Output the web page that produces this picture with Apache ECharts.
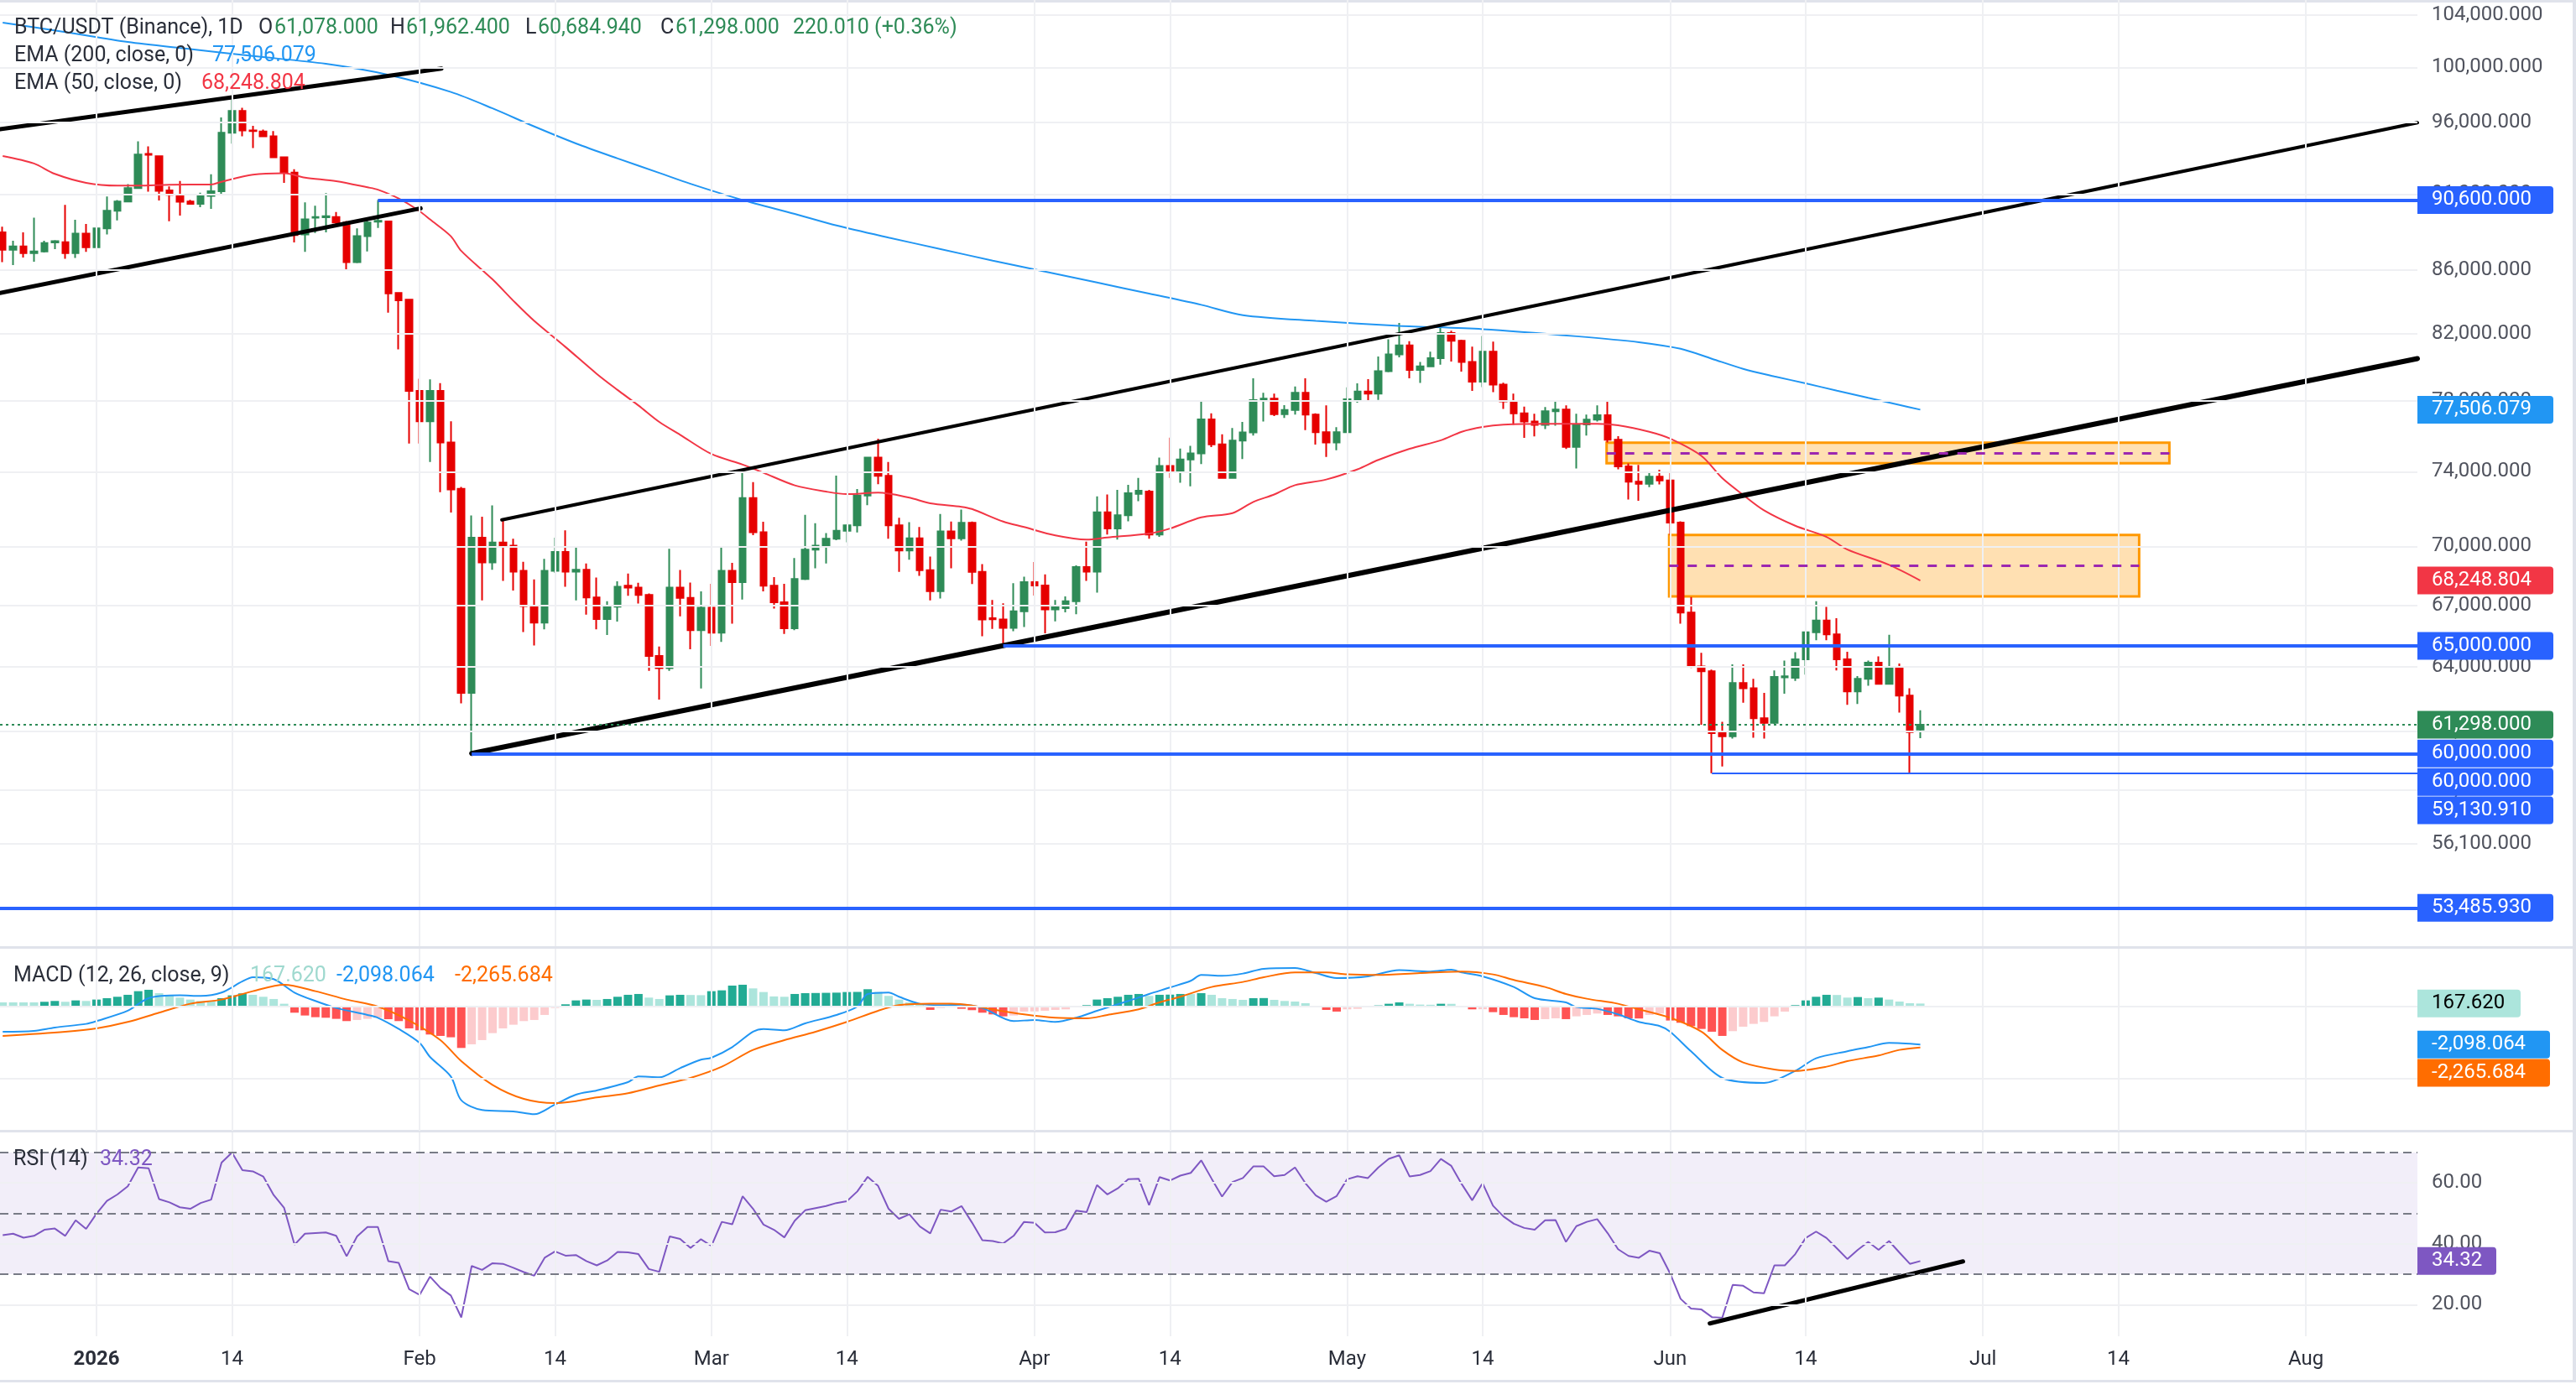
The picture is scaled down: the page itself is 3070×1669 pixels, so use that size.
<!DOCTYPE html>
<html>
<head>
<meta charset="utf-8">
<script src="https://cdn.jsdelivr.net/npm/echarts@6/dist/echarts.min.js"></script>
<style>
  html, body { margin: 0; padding: 0; background: #fff; }
  #chart { width: 3070px; height: 1669px; }
</style>
</head>
<body>
<div id="chart"></div>
<script>
// x = candle index, 0 = 2025-12-23 (one candle per day)
const tickIdx = [9, 22, 40, 53, 68, 81, 99, 112, 129, 142, 160, 173, 190, 203, 221];
const tickText = ['2026', '14', 'Feb', '14', 'Mar', '14', 'Apr', '14', 'May', '14', 'Jun', '14', 'Jul', '14', 'Aug'];
const priceTicks = [104000, 100000, 96000, 91000, 86000, 82000, 78000, 74000, 70000, 67000, 64000, 61000, 58400, 56100];

// [open, close, low, high]
const candles = [
  [88450, 87310, 86500, 88820], [87310, 87530, 86320, 87900], [87530, 87090, 86800, 88450], [87090, 87200, 86530, 89410],
  [87200, 87750, 87130, 87900], [87780, 87860, 87350, 87930], [87800, 87090, 86720, 90270], [87090, 88360, 86770, 89280],
  [88360, 87470, 87170, 89000], [87470, 88710, 87440, 88745], [88710, 89880, 88300, 90840], [89880, 90500, 89240, 90600],
  [90500, 91410, 90460, 91680], [91410, 93725, 91370, 94650], [93760, 93700, 91160, 94290], [93610, 91215, 90575, 93650],
  [91250, 90950, 89180, 91520], [90950, 90480, 89560, 91900], [90500, 90350, 90310, 90610], [90350, 90880, 90120, 91100],
  [90880, 91200, 90010, 92360], [91200, 95260, 90930, 96340], [95260, 96820, 94490, 97800], [96820, 95420, 95000, 97040],
  [95420, 95380, 94170, 95740], [95340, 95000, 94940, 95480], [95000, 93530, 93500, 95380], [93530, 92450, 91770, 93530],
  [92470, 88270, 87790, 92700], [88300, 89300, 87170, 90440], [89410, 89460, 88410, 90220], [89440, 89520, 88450, 91060],
  [89460, 89090, 89000, 89790], [89090, 86500, 85960, 89190], [86500, 88190, 86440, 88710], [88190, 89090, 87200, 89370],
  [89150, 89210, 88740, 90600], [89170, 84520, 83310, 89210], [84540, 84080, 81070, 84570], [84120, 78600, 75580, 84140],
  [78600, 76840, 75580, 79310], [76840, 78600, 74550, 79270], [78600, 75640, 72890, 79050], [75640, 73030, 71790, 76840],
  [73070, 62770, 62280, 73170], [62770, 70460, 60000, 71630], [70460, 69170, 67240, 71570], [69170, 70210, 68800, 72170],
  [70210, 70040, 68230, 71370], [70040, 68700, 67740, 70400], [68740, 66960, 65680, 69210], [66960, 66140, 65020, 68300],
  [66140, 68740, 65810, 69360], [68740, 69720, 68640, 70460], [69720, 68700, 67930, 70850], [68700, 68800, 67240, 70020],
  [68800, 67390, 66540, 69120], [67390, 66320, 65810, 68400], [66320, 66930, 65530, 67200], [66930, 67930, 66190, 68210],
  [67980, 67890, 67480, 68600], [67890, 67520, 67090, 68130], [67520, 64520, 63810, 67590], [64520, 63940, 62460, 64970],
  [63940, 67890, 63810, 69880], [67890, 67370, 66450, 68780], [67370, 65770, 64840, 68140], [65770, 66880, 62980, 67700],
  [66880, 65650, 65000, 68080], [65650, 68740, 65200, 69980], [68740, 68170, 66090, 69150], [68170, 72570, 67290, 73940],
  [72570, 70750, 70590, 73430], [70750, 67980, 67700, 71300], [67980, 67150, 66840, 68420], [67150, 65860, 65590, 68080],
  [65860, 68320, 65770, 69400], [68320, 69840, 68270, 71670], [69840, 70040, 68870, 71220], [70040, 70400, 69120, 70700],
  [70400, 70820, 70330, 73790], [70820, 71110, 70220, 71170], [71110, 72700, 70740, 73060], [72700, 74790, 72180, 74830],
  [74790, 73780, 73320, 75850], [73780, 71110, 70400, 74550], [71110, 69790, 68690, 71510], [69790, 70430, 69310, 71280],
  [70430, 68770, 68480, 71020], [68770, 67710, 67240, 69480], [67710, 70790, 67340, 71710], [70790, 70430, 68870, 71310],
  [70430, 71240, 70300, 71950], [71240, 68690, 68070, 71310], [68690, 66300, 65470, 69090], [66360, 66310, 65830, 67270],
  [66300, 65880, 65000, 67100], [65880, 66700, 65720, 68110], [66700, 68160, 65920, 68440], [68160, 67990, 67490, 69190],
  [67990, 66790, 65620, 68560], [66790, 66900, 66200, 67270], [66860, 67200, 66650, 67450], [67200, 68940, 66560, 69020],
  [68940, 68700, 68230, 70250], [68700, 71800, 67630, 72660], [71800, 70940, 70620, 72760], [70940, 71650, 70360, 73010],
  [71650, 72830, 71320, 73290], [72800, 72970, 72400, 73660], [72920, 70620, 70400, 73010], [70620, 74320, 70500, 74790],
  [74320, 74010, 73670, 75910], [74010, 74680, 73400, 75290], [74680, 75020, 73210, 75450], [75020, 76950, 74430, 78000],
  [76950, 75530, 75370, 77290], [75530, 73660, 73620, 76100], [73660, 75740, 73640, 76450], [75740, 76200, 74710, 76800],
  [76200, 78060, 76020, 79340], [78060, 78150, 76820, 78490], [78150, 77250, 77140, 78440], [77250, 77490, 77030, 77770],
  [77490, 78490, 77220, 78850], [78490, 77220, 76340, 79340], [77220, 76220, 75520, 77300], [76220, 75630, 74820, 77760],
  [75630, 76220, 75200, 76500], [76220, 78110, 76180, 78800], [78110, 78560, 77910, 79040], [78560, 78440, 77980, 79290],
  [78440, 79760, 78070, 80640], [79760, 80760, 79700, 81670], [80760, 81310, 80590, 82680], [81310, 79840, 79340, 81560],
  [79840, 80040, 79060, 80310], [80040, 80540, 79990, 80930], [80540, 82060, 80150, 82460], [82060, 81580, 80340, 82200],
  [81580, 80310, 79730, 81650], [80310, 79140, 78600, 81230], [79140, 80930, 78820, 81880], [80930, 78960, 78520, 81540],
  [78960, 77980, 77550, 79080], [77980, 77300, 76630, 78440], [77300, 76820, 75900, 77680], [76820, 76630, 75980, 77270],
  [76630, 77410, 76390, 77660], [77410, 77510, 76580, 78060], [77510, 75390, 75270, 77760], [75390, 76660, 74190, 77270],
  [76660, 76930, 76020, 77220], [76930, 77190, 76820, 77760], [77190, 75790, 75630, 77960], [75790, 74300, 74140, 75990],
  [74300, 73460, 72490, 74460], [73460, 73340, 72420, 74380], [73340, 73730, 73160, 73960], [73730, 73530, 73310, 74110],
  [73530, 71260, 70580, 73960], [71260, 66640, 66090, 71320], [66640, 64020, 63950, 67410], [64020, 63790, 61300, 64670],
  [63790, 60920, 59131, 63870], [60920, 60770, 59420, 61430], [60770, 63230, 60670, 64120], [63230, 62990, 62310, 64120],
  [62990, 61600, 60710, 63430], [61600, 61380, 60670, 62770], [61380, 63520, 61340, 63830], [63500, 63550, 62730, 64300],
  [63480, 64360, 63330, 64700], [64360, 65670, 63630, 65710], [65670, 66240, 65280, 67200], [66240, 65570, 65280, 66920],
  [65570, 64360, 63830, 66360], [64360, 62840, 62210, 64720], [62840, 63430, 62250, 63560], [63430, 64200, 63100, 64300],
  [64200, 63190, 63160, 64500], [63190, 63920, 63160, 65550], [63920, 62640, 61860, 64160], [62640, 60960, 59140, 62990],
  [61078, 61298, 60684.94, 61962.4]
];

// [index, value]
const ema200 = [
  [0, 103390], [6, 102670], [12, 101910], [18, 101380], [24, 100850], [31, 100270], [37, 99450], [43, 98190],
  [47, 97000], [51, 95700], [55, 94500], [59, 93450], [63, 92450], [66, 91700], [71, 90600], [76, 89670],
  [80, 88900], [85, 88100], [90, 87350], [95, 86600], [100, 85900], [105, 85200], [110, 84500], [115, 83800],
  [119, 83160], [126, 82800], [134, 82500], [142, 82290], [151, 81860], [157, 81500], [161, 81100], [164, 80500],
  [167, 79900], [170, 79450], [173, 79040], [176, 78610], [179, 78190], [182, 77780], [184, 77506.079]
];
const ema50 = [
  [0, 93620], [3, 93100], [5, 92380], [8, 91770], [11, 91580], [13, 91580], [16, 91640], [20, 91650],
  [21, 91840], [24, 92320], [27, 92420], [29, 92130], [32, 91880], [35, 91460], [36, 91300], [38, 90700],
  [40, 89850], [41, 89300], [43, 88190], [44, 87230], [47, 85400], [49, 84050], [51, 82800], [54, 81210],
  [57, 79600], [59, 78650], [61, 77750], [63, 76800], [65, 76070], [68, 74990], [71, 74400], [73, 73950],
  [76, 73260], [79, 72920], [81, 72780], [84, 72860], [87, 72590], [89, 72290], [92, 72100], [93, 71980],
  [96, 71310], [98, 71020], [101, 70580], [104, 70360], [106, 70470], [110, 70680], [112, 70940], [115, 71530],
  [118, 71760], [120, 72360], [122, 72760], [124, 73270], [127, 73580], [130, 74140], [132, 74660], [135, 75280],
  [138, 75760], [140, 76240], [142, 76510], [144, 76640], [148, 76690], [153, 76690], [155, 76610], [158, 76240],
  [160, 75850], [163, 74880], [165, 73650], [167, 72740], [169, 71910], [172, 71090], [175, 70500], [177, 69840],
  [181, 69050], [184, 68248.804]
];

const macdLine = [
  [0, -1392], [3, -1346], [5, -1160], [8, -959], [9, -804], [12, -232], [14, 464], [17, 619], [19, 588],
  [21, 774], [23, 1392], [24, 1624], [26, 1516], [28, 774], [30, 309], [32, -77], [35, -464], [36, -619],
  [38, -1238], [40, -2011], [41, -2785], [43, -3868], [44, -5183], [46, -5724], [49, -5802], [51, -5956],
  [53, -5415], [55, -4873], [57, -4641], [60, -4177], [61, -3868], [63, -3914], [65, -3404], [67, -2939],
  [68, -2831], [70, -2243], [72, -1392], [73, -1238], [75, -1315], [77, -928], [80, -464], [82, 0], [83, 696],
  [85, 774], [86, 541], [88, 155], [90, 77], [92, 108], [94, -77], [97, -804], [99, -742], [101, -851],
  [103, -619], [105, -232], [108, 309], [110, 696], [112, 1052], [114, 1423], [115, 1748], [117, 1702],
  [119, 1825], [121, 2088], [124, 2135], [126, 1856], [128, 1578], [131, 1671], [134, 2011], [137, 1934],
  [139, 2042], [140, 1887], [142, 1671], [145, 1083], [147, 464], [150, 232], [151, -31], [153, -124],
  [155, -433], [157, -851], [159, -1083], [160, -1392], [162, -2475], [165, -3945], [169, -4223], [172, -3558],
  [174, -2862], [177, -2475], [179, -2243], [181, -2011], [184, -2098.064]
];
const signalLine = [
  [0, -1624], [6, -1392], [9, -1206], [12, -851], [15, -340], [18, 155], [21, 387], [24, 851], [27, 1207],
  [30, 851], [33, 387], [36, 0], [39, -773], [42, -1856], [44, -3017], [47, -4331], [50, -5105], [53, -5337],
  [55, -5229], [57, -5028], [60, -4796], [63, -4363], [66, -3945], [69, -3326], [72, -2398], [75, -1856],
  [78, -1392], [81, -851], [84, -232], [86, 77], [89, 155], [91, 155], [93, 60], [95, -155], [98, -433],
  [101, -619], [104, -650], [106, -464], [109, -155], [111, 232], [113, 541], [116, 1083], [119, 1361],
  [121, 1624], [124, 1887], [127, 1887], [129, 1779], [132, 1748], [136, 1856], [140, 1934], [143, 1779],
  [145, 1470], [148, 1083], [150, 696], [152, 433], [155, 155], [157, -155], [160, -619], [163, -1392],
  [165, -2398], [167, -3094], [170, -3481], [172, -3558], [175, -3326], [177, -3017], [180, -2707],
  [182, -2398], [184, -2265.684]
];
const macdHist = [
  232, 232, 232, 232, 263, 309, 263, 340, 309, 387,
  464, 541, 650, 851, 928, 742, 619, 495, 387, 309,
  278, 464, 619, 727, 650, 541, 418, 155, -340, -495,
  -588, -619, -680, -804, -742, -680, -619, -700, -804, -1207,
  -1315, -1547, -1624, -1700, -2290, -2088, -1856, -1470, -1207, -1005,
  -804, -742, -464, -77, 124, 340, 387, 371, 418, 541,
  650, 696, 495, 418, 619, 650, 640, 630, 851, 897,
  1160, 1207, 1005, 804, 560, 541, 696, 742, 750, 760,
  770, 804, 810, 959, 804, 588, 387, 232, 155, -186,
  -77, -30, -124, -200, -340, -433, -541, -495, -278, -270,
  -232, -186, -155, -31, 77, 387, 464, 541, 650, 696,
  588, 650, 660, 696, 690, 742, 650, 464, 418, 371,
  464, 470, 371, 309, 278, 186, -31, -186, -278, -155,
  -124, -31, 62, 155, 232, 155, 108, 100, 155, 150,
  -31, -155, -150, -309, -464, -588, -650, -742, -696, -650,
  -696, -541, -464, -387, -464, -541, -650, -660, -464, -387,
  -773, -897, -1083, -1238, -1392, -1624, -1361, -1114, -959, -851,
  -541, -278, 77, 340, 541, 650, 640, 495, 526, 464,
  495, 387, 278, 186, 167.62
];
const rsi = [
  42.8, 43.3, 42.0, 42.6, 44.6, 45.0, 42.6, 47.7, 44.9, 49.9,
  54.1, 56.2, 58.9, 65.1, 64.8, 54.7, 53.6, 52.0, 51.5, 53.4,
  54.5, 66.7, 70.0, 64.2, 63.8, 62.1, 56.0, 51.8, 39.7, 43.3,
  43.5, 43.7, 42.6, 35.9, 42.4, 45.5, 45.5, 34.3, 33.7, 25.1,
  23.2, 29.2, 25.5, 23.0, 15.8, 32.7, 31.4, 33.6, 33.4, 32.1,
  30.7, 29.5, 35.4, 37.5, 36.1, 36.3, 34.3, 32.9, 34.5, 37.3,
  37.2, 36.6, 31.7, 30.8, 42.4, 41.6, 38.6, 41.5, 39.3, 47.2,
  46.4, 55.6, 51.5, 46.3, 44.6, 42.1, 47.6, 51.0, 51.7, 52.4,
  53.4, 54.0, 57.2, 62.0, 59.0, 51.5, 48.2, 49.7, 45.7, 43.4,
  51.2, 50.6, 52.4, 47.0, 41.2, 40.9, 40.1, 42.6, 47.2, 46.9,
  43.7, 43.8, 44.9, 50.9, 50.4, 59.3, 56.2, 58.2, 61.2, 61.4,
  52.7, 61.9, 60.8, 62.4, 63.3, 67.4, 61.4, 55.5, 60.3, 61.6,
  65.4, 65.4, 62.2, 62.6, 65.1, 59.9, 55.9, 53.8, 55.7, 61.2,
  62.2, 61.6, 65.1, 67.9, 69.1, 62.1, 62.6, 63.9, 67.9, 65.6,
  59.6, 54.3, 59.9, 52.5, 49.0, 46.6, 45.2, 44.6, 47.7, 47.8,
  40.6, 45.8, 47.2, 48.1, 43.5, 38.2, 36.0, 35.4, 37.7, 36.9,
  30.2, 21.9, 18.7, 18.4, 15.9, 15.7, 26.5, 26.2, 24.0, 23.7,
  32.9, 32.9, 36.6, 41.9, 44.0, 41.9, 38.5, 35.0, 38.0, 40.6,
  38.0, 40.9, 37.1, 33.4, 34.32
];

// drawings: trend lines [[x, price], [x, price], width]
const trendLines = [
  [[-0.26, 95500], [42.1, 99920], 5],
  [[-0.26, 84540], [40.1, 90040], 5],
  [[47.9, 71400], [231.7, 95970], 4],
  [[45, 60000], [231.7, 80510], 6]
];
const rsiTrend = [[163.8, 13.8], [188.1, 34.2]];
// horizontal levels: [startIndex, price, width]
const levels = [[36, 90600, 4], [96, 65000, 4], [45, 60000, 4], [164, 59130.91, 2], [-0.26, 53485.93, 4]];
// boxes: [x0, x1, top, bottom, mid]
const boxes = [[153.9, 207.9, 75618, 74473, 75043], [159.9, 205, 70600, 67446, 69019]];

const xMin = -0.26, xMax = 231.7;
const FONT = 'Roboto, "Noto Sans", sans-serif';
const GRID = '#eff0f3';
const TXT = '#2a2e39';
const UP = '#2e8b57', DOWN = '#e60000';
const HIDDEN = {color: 'rgba(0,0,0,0)', width: 0, opacity: 1};

function fmt(v, d) {
  const neg = v < 0;
  const s = Math.abs(v).toFixed(d).split('.');
  return (neg ? '-' : '') + s[0].replace(/\B(?=(\d{3})+(?!\d))/g, ',') + (s[1] ? '.' + s[1] : '');
}

function tag(v, text, bg, w, fg) {
  return {
    yAxis: v,
    lineStyle: HIDDEN,
    label: {
      show: true, position: 'end', distance: 0, formatter: text,
      backgroundColor: bg, color: fg || '#fff', width: w,
      padding: [5, 0, 4, 17], lineHeight: 24, fontSize: 24, fontFamily: FONT,
      borderRadius: [0, 4, 4, 0]
    }
  };
}

function carrier(gi, z, extra) {
  return Object.assign({
    type: 'line', xAxisIndex: gi, yAxisIndex: gi, data: [], z: z,
    silent: true, clip: false, symbol: 'none', animation: false
  }, extra);
}

function gridLines(gi, yVals, labelFn) {
  return carrier(gi, 1, {
    markLine: {
      silent: true, animation: false, symbol: ['none', 'none'],
      emphasis: {disabled: true},
      lineStyle: {color: GRID, width: 2, type: 'solid'},
      label: {show: false},
      data: tickIdx.map(v => ({xAxis: v})).concat(yVals.map(v => ({
        yAxis: v,
        label: labelFn ? {
          show: true, position: 'end', distance: 17, formatter: labelFn(v),
          color: '#50535e', fontSize: 24, fontFamily: FONT
        } : {show: false}
      })))
    }
  });
}

const histData = macdHist.map((v, i) => {
  const p = i ? macdHist[i - 1] : v;
  let c;
  if (v >= 0) c = v > p ? '#22AB94' : '#ACE5DC';
  else c = v < p ? '#FF5252' : '#FCCBCD';
  return {value: [i, v], itemStyle: {color: c}};
});

const xAxisBase = {
  type: 'value', min: xMin, max: xMax,
  axisLine: {show: false}, axisTick: {show: false}, splitLine: {show: false}, axisLabel: {show: false}
};

const legendItems = [
  [17, 34, 'BTC/USDT (Binance), 1D', TXT], [308, 34, 'O', TXT], [327, 34, '61,078.000', UP],
  [465, 34, 'H', TXT], [484, 34, '61,962.400', UP], [626, 34, 'L', TXT], [641, 34, '60,684.940', UP],
  [787, 34, 'C', TXT], [805, 34, '61,298.000', UP], [945, 34, '220.010 (+0.36%)', UP],
  [17, 67, 'EMA (200, close, 0)', TXT], [253, 67, '77,506.079', '#2196F3'],
  [17, 100, 'EMA (50, close, 0)', TXT], [240, 100, '68,248.804', '#F23645'],
  [16, 1164, 'MACD (12, 26, close, 9)', TXT], [298, 1164, '167.620', '#9fd9cf'],
  [401, 1164, '-2,098.064', '#2196F3'], [542, 1164, '-2,265.684', '#FF6D00'],
  [16, 1383, 'RSI (14)', TXT], [119, 1383, '34.32', '#7E57C2']
];

const chart = echarts.init(document.getElementById('chart'));
chart.setOption({
  animation: false,
  backgroundColor: '#ffffff',
  grid: [
    {left: 0, top: 0, width: 2881, height: 1128},
    {left: 0, top: 1131, width: 2881, height: 217},
    {left: 0, top: 1350, width: 2881, height: 243}
  ],
  xAxis: [
    Object.assign({}, xAxisBase, {gridIndex: 0}),
    Object.assign({}, xAxisBase, {gridIndex: 1}),
    Object.assign({}, xAxisBase, {
      gridIndex: 2,
      axisTick: {show: false, customValues: tickIdx},
      axisLabel: {
        show: true, customValues: tickIdx, margin: 16, fontSize: 24, fontFamily: FONT, color: TXT,
        formatter: v => {
          const k = tickIdx.indexOf(Math.round(v));
          if (k < 0) return '';
          return k === 0 ? '{b|' + tickText[k] + '}' : tickText[k];
        },
        rich: {b: {fontWeight: 'bold', fontSize: 24, fontFamily: FONT, color: TXT}}
      }
    })
  ],
  yAxis: [
    {type: 'log', logBase: 10, gridIndex: 0, position: 'right', min: 51980, max: 105150,
     axisLine: {show: false}, axisTick: {show: false}, splitLine: {show: false}, axisLabel: {show: false}},
    {type: 'value', gridIndex: 1, position: 'right', min: -6870, max: 3200,
     axisLine: {show: false}, axisTick: {show: false}, splitLine: {show: false}, axisLabel: {show: false}},
    {type: 'value', gridIndex: 2, position: 'right', min: 9.6, max: 76.6,
     axisLine: {show: false}, axisTick: {show: false}, splitLine: {show: false}, axisLabel: {show: false}}
  ],
  graphic: [
    {type: 'rect', shape: {x: 0, y: 1128, width: 3070, height: 3}, style: {fill: '#e0e3eb'}, silent: true},
    {type: 'rect', shape: {x: 0, y: 1347, width: 3070, height: 3}, style: {fill: '#e0e3eb'}, silent: true},
    {type: 'rect', shape: {x: 0, y: 1645, width: 3070, height: 3}, style: {fill: '#e0e3eb'}, silent: true},
    {type: 'rect', shape: {x: 0, y: 0, width: 3070, height: 3}, style: {fill: '#e0e3eb'}, silent: true},
    {type: 'rect', shape: {x: 3066, y: 0, width: 4, height: 1648}, style: {fill: '#e0e3eb'}, silent: true}
  ].concat(legendItems.map(([x, y, t, c]) => ({
    type: 'text', x: x, y: y, z: 100, silent: true,
    style: {text: t, fill: c, fontSize: 25, fontFamily: FONT, verticalAlign: 'middle'}
  }))),
  series: [
    // price pane grid + tick labels
    gridLines(0, priceTicks, v => fmt(v, 3)),
    {
      type: 'candlestick', xAxisIndex: 0, yAxisIndex: 0, z: 2,
      data: candles.map((r, i) => [i].concat(r)),
      encode: {x: 0, y: [1, 2, 3, 4]},
      barWidth: 8,
      itemStyle: {color: UP, color0: DOWN, borderColor: UP, borderColor0: DOWN, borderWidth: 2}
    },
    {type: 'line', xAxisIndex: 0, yAxisIndex: 0, z: 3, data: ema200, smooth: 0.3, symbol: 'none',
     lineStyle: {color: '#2196F3', width: 2}},
    {type: 'line', xAxisIndex: 0, yAxisIndex: 0, z: 3, data: ema50, smooth: 0.3, symbol: 'none',
     lineStyle: {color: '#F23645', width: 2}},
    carrier(0, 4, {
      markArea: {
        silent: true,
        itemStyle: {color: 'rgba(255,152,0,0.3)', borderColor: '#FF9800', borderWidth: 3},
        data: boxes.map(b => [{coord: [b[0], b[2]]}, {coord: [b[1], b[3]]}])
      },
      markLine: {
        silent: true, symbol: ['none', 'none'], label: {show: false},
        lineStyle: {color: '#9C27B0', width: 3, type: [11, 11]},
        data: boxes.map(b => [{coord: [b[0], b[4]]}, {coord: [b[1], b[4]]}])
      }
    })
  ].concat(trendLines.map(t => ({
    type: 'line', xAxisIndex: 0, yAxisIndex: 0, z: 4, data: [t[0], t[1]], symbol: 'none', silent: true,
    lineStyle: {color: '#000', width: t[2], cap: 'round'}
  }))).concat([
    carrier(0, 5, {
      markLine: {
        silent: true, symbol: ['none', 'none'], emphasis: {disabled: true},
        lineStyle: {color: '#2962FF', type: 'solid'},
        label: {show: false},
        data: levels.map(l => [{coord: [l[0], l[1]], lineStyle: {width: l[2]}}, {coord: [xMax, l[1]]}])
      }
    }),
    carrier(0, 6, {
      markLine: {
        silent: true, symbol: ['none', 'none'], emphasis: {disabled: true},
        data: [
          tag(90600, '90,600.000', '#2962FF', 145),
          tag(77506.079, '77,506.079', '#2196F3', 145),
          tag(68248.804, '68,248.804', '#F23645', 145),
          tag(65000, '65,000.000', '#2962FF', 145),
          Object.assign(tag(61298, '61,298.000', UP, 145),
            {lineStyle: {color: UP, width: 2, type: [3, 4], opacity: 1}}),
          tag(60000, '60,000.000', '#2962FF', 145),
          tag(58743, '60,000.000', '#2962FF', 145),
          tag(57511, '59,130.910', '#2962FF', 145),
          tag(53485.93, '53,485.930', '#2962FF', 145)
        ]
      }
    }),
    // MACD pane
    gridLines(1, [-4000, 0], null),
    {type: 'bar', xAxisIndex: 1, yAxisIndex: 1, z: 2, data: histData, barWidth: 10, silent: true},
    {type: 'line', xAxisIndex: 1, yAxisIndex: 1, z: 3, data: macdLine, smooth: 0.3, symbol: 'none',
     lineStyle: {color: '#2196F3', width: 2}},
    {type: 'line', xAxisIndex: 1, yAxisIndex: 1, z: 3, data: signalLine, smooth: 0.3, symbol: 'none',
     lineStyle: {color: '#FF6D00', width: 2}},
    carrier(1, 6, {
      markLine: {
        silent: true, symbol: ['none', 'none'], emphasis: {disabled: true},
        data: [
          tag(167.62, '167.620', '#ACE5DC', 106, '#000'),
          tag(-2098.064, '-2,098.064', '#2196F3', 141),
          tag(-3666, '-2,265.684', '#FF6D00', 141)
        ]
      }
    }),
    // RSI pane
    gridLines(2, [20, 40, 60], v => v.toFixed(2)),
    carrier(2, 1, {
      markArea: {silent: true, itemStyle: {color: 'rgba(126,87,194,0.1)'}, data: [[{yAxis: 70}, {yAxis: 30}]]},
      markLine: {
        silent: true, symbol: ['none', 'none'], label: {show: false}, emphasis: {disabled: true},
        lineStyle: {color: '#787B86', width: 2, type: [10, 6]},
        data: [{yAxis: 70}, {yAxis: 50}, {yAxis: 30}]
      }
    }),
    {type: 'line', xAxisIndex: 2, yAxisIndex: 2, z: 3, data: rsi.map((v, i) => [i, v]), symbol: 'none',
     lineStyle: {color: '#7E57C2', width: 2}},
    {type: 'line', xAxisIndex: 2, yAxisIndex: 2, z: 4, data: rsiTrend, symbol: 'none', silent: true,
     lineStyle: {color: '#000', width: 5, cap: 'round'}},
    carrier(2, 6, {
      markLine: {
        silent: true, symbol: ['none', 'none'], emphasis: {disabled: true},
        data: [tag(34.32, '34.32', '#7E57C2', 77)]
      }
    })
  ])
});
</script>
</body>
</html>
